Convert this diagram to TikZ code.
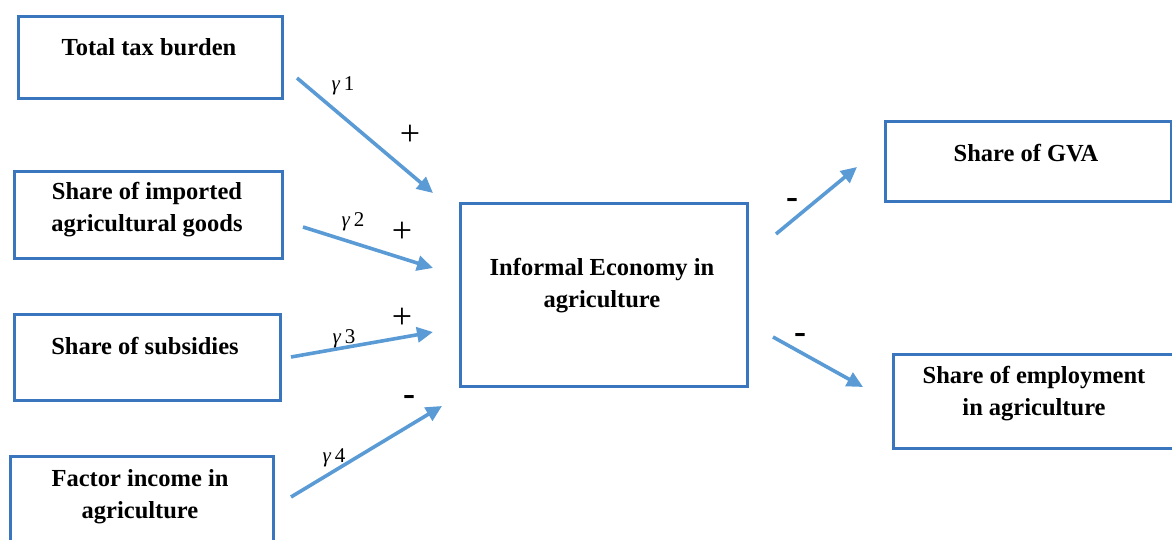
\documentclass[tikz,border=0pt]{standalone}
\usepackage{fontspec}
\setmainfont{Liberation Serif}
\usetikzlibrary{arrows.meta}
\definecolor{boxblue}{RGB}{58,118,189}
\definecolor{arrblue}{RGB}{91,155,213}
\begin{document}
\begin{tikzpicture}[x=1pt,y=-1pt,
  box/.style={draw=boxblue,line width=2.6pt,inner sep=0pt,anchor=north west},
  txt/.style={inner sep=0pt,align=center,font=\fontsize{24.5}{32}\selectfont\bfseries},
  arr/.style={draw=arrblue,line width=3.6pt,-{Triangle[length=16pt,width=15pt]}},
  gam/.style={font=\fontsize{21}{24}\selectfont},
  sgn/.style={font=\fontsize{36}{38}\selectfont},
  msgn/.style={font=\fontsize{36}{38}\selectfont\bfseries}]
\useasboundingbox (0,0) rectangle (1172,540);
\clip (0,0) rectangle (1172,540);
\node[box,minimum width=264pt,minimum height=82pt] (b1) at (17,15) {};
\node[box,minimum width=268pt,minimum height=87pt] (b2) at (13,170) {};
\node[box,minimum width=266pt,minimum height=86pt] (b3) at (13,313) {};
\node[box,minimum width=263pt,minimum height=95pt] (b4) at (9,455) {};
\node[box,minimum width=287pt,minimum height=183pt] (c) at (459,202) {};
\node[box,minimum width=286pt,minimum height=80pt] (g) at (884,120) {};
\node[box,minimum width=290pt,minimum height=94pt] (e) at (892,353) {};
\node[txt] (b1t) at (149,47) {Total tax burden};
\node[txt] (b2t) at (147,210) {Share of imported\\agricultural goods};
\node[txt] (b3t) at (145,346) {Share of subsidies};
\node[txt] (b4t) at (140,497) {Factor income in\\agriculture};
\node[txt] (ct) at (602,286) {Informal Economy in\\agriculture};
\node[txt] (gt) at (1026,153) {Share of GVA};
\node[txt] (et) at (1034,394) {Share of employment\\in agriculture};
\coordinate (s1) at (297,78); \coordinate (t1) at (433,193);
\coordinate (s2) at (303,227); \coordinate (t2) at (433,268);
\coordinate (s3) at (291,357); \coordinate (t3) at (433,332);
\coordinate (s4) at (291,497); \coordinate (t4) at (442,406);
\coordinate (s5) at (776,234); \coordinate (t5) at (857,167);
\coordinate (s6) at (773,337); \coordinate (t6) at (863,387);
\draw[arr] (s1) -- (t1);
\draw[arr] (s2) -- (t2);
\draw[arr] (s3) -- (t3);
\draw[arr] (s4) -- (t4);
\draw[arr] (s5) -- (t5);
\draw[arr] (s6) -- (t6);
\node[gam] (l1) at (343,86) {\textit{γ}\,1};
\node[gam] (l2) at (353,222) {\textit{γ}\,2};
\node[gam] (l3) at (344,339) {\textit{γ}\,3};
\node[gam] (l4) at (334,458) {\textit{γ}\,4};
\node[sgn] (p1) at (410,135) {+};
\node[sgn] (p2) at (402,232) {+};
\node[sgn] (p3) at (402,318) {+};
\node[msgn] (m4) at (409,400) {-};
\node[msgn] (m5) at (792,203) {-};
\node[msgn] (m6) at (800,338) {-};
\end{tikzpicture}
\end{document}
